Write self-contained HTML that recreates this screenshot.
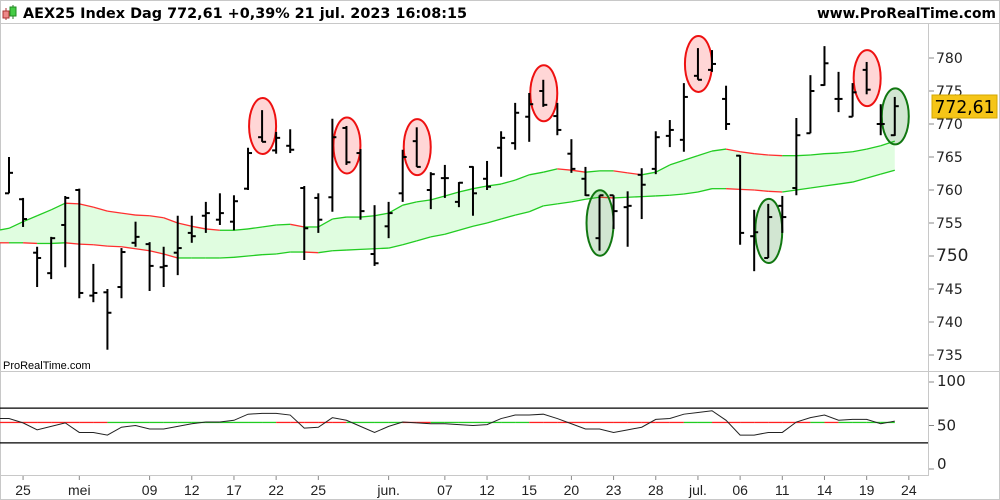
<!DOCTYPE html>
<html><head><meta charset="utf-8"><style>
html,body{margin:0;padding:0;background:#fff;}
#wrap{position:relative;width:1000px;height:500px;overflow:hidden;font-family:"DejaVu Sans","Liberation Sans",sans-serif;}
svg{position:absolute;left:0;top:0;}
</style></head><body>
<div id="wrap">
<svg id="chart" width="1000" height="500" viewBox="0 0 1000 500">
  <rect x="0.5" y="0.5" width="999" height="499" fill="#fff" stroke="#c8c8c8"/>
  <line x1="0" y1="23.5" x2="1000" y2="23.5" stroke="#c8c8c8"/>
  <g>
    <line x1="6" y1="8" x2="6" y2="20" stroke="#b03030"/><rect x="3" y="11" width="6" height="7" fill="#e88" stroke="#a33"/>
    <line x1="13" y1="5" x2="13" y2="19" stroke="#2a7a2a"/><rect x="10" y="7" width="6" height="9" fill="#4c4" stroke="#282"/>
  </g>
  <text x="23" y="18" font-size="14" font-weight="bold" fill="#000" textLength="444" lengthAdjust="spacingAndGlyphs">AEX25 Index Dag 772,61 +0,39% 21 jul. 2023 16:08:15</text>
  <text x="817" y="18" font-size="14" font-weight="bold" fill="#000" textLength="179" lengthAdjust="spacingAndGlyphs">www.ProRealTime.com</text>
  <line x1="928.5" y1="24" x2="928.5" y2="476" stroke="#c8c8c8"/>
  <line x1="0" y1="371.5" x2="1000" y2="371.5" stroke="#c8c8c8"/>
  <line x1="0" y1="475.5" x2="928" y2="475.5" stroke="#c8c8c8"/>
  <text x="3" y="369" font-size="11" fill="#000" font-family="Liberation Sans, sans-serif">ProRealTime.com</text>
  <g id="band"></g>
  <g id="marks"></g>
  <g id="bars"></g>
  <g id="yaxis"></g>
  <g id="osc"></g>
  <g id="xaxis"></g>
  <g>
    <rect x="932" y="95" width="65" height="23" fill="#f5c518" stroke="#d4a800"/>
    <text x="964.5" y="113" font-size="18" text-anchor="middle" fill="#000" textLength="60" lengthAdjust="spacingAndGlyphs">772,61</text>
  </g>
</svg>
</div>
<script>
const opens  =[759.5,758.6,750.5,747.4,754.7,760.0,744.0,744.5,745.3,752.0,751.8,748.3,750.5,753.5,756.1,755.5,755.2,760.2,768.0,766.0,766.7,760.3,758.8,758.9,769.4,765.6,750.3,754.5,759.5,767.4,760.0,761.8,758.2,763.5,761.7,766.4,767.1,771.1,775.0,771.2,765.5,761.7,752.7,759.2,757.4,762.3,763.2,768.2,767.6,777.3,778.2,773.8,765.2,753.0,749.7,757.6,760.3,768.6,775.9,773.8,771.1,778.2,770.0,768.3];
const highs  =[765.0,758.8,751.4,752.9,759.1,760.2,748.8,745.0,751.2,755.2,752.1,751.4,756.1,756.1,758.2,759.5,759.2,766.4,772.1,768.8,769.2,760.6,759.5,770.8,769.7,766.2,757.7,758.2,766.1,769.5,762.7,763.8,761.2,763.6,764.4,768.9,773.2,774.7,776.7,773.2,767.7,763.5,759.2,759.2,759.8,763.3,768.9,770.6,776.2,781.5,781.2,775.8,765.3,757.0,757.9,759.1,770.9,777.4,781.8,777.9,776.2,779.4,773.0,774.1];
const lows   =[759.5,754.4,745.3,746.5,748.3,743.6,743.0,735.8,743.6,751.4,744.7,745.3,747.1,752.0,753.5,754.7,753.9,760.0,767.3,765.5,765.6,749.4,753.5,756.7,763.8,755.5,748.5,752.7,758.2,763.5,757.1,758.8,757.4,756.1,760.0,762.0,766.1,767.3,772.6,768.3,762.6,759.1,750.8,754.1,751.4,755.6,762.4,766.5,765.8,776.7,777.9,769.1,751.7,747.7,749.7,753.5,759.2,768.6,775.8,771.8,771.1,774.5,768.3,768.2];
const closes =[762.6,755.6,749.7,752.7,758.8,744.4,744.4,741.4,750.6,752.9,748.5,748.5,751.2,753.0,756.5,756.5,758.3,765.6,767.3,767.9,766.1,754.2,755.5,768.0,764.2,756.8,748.9,756.5,765.0,763.5,762.4,761.8,761.1,759.5,760.5,767.9,771.7,773.0,772.9,769.1,763.2,759.2,759.2,756.8,757.6,760.8,768.0,769.1,774.1,776.7,779.1,770.0,753.5,753.6,755.9,755.9,768.3,775.0,779.2,773.8,774.8,775.2,770.0,772.7];
const bandUpper=[754.2,755.2,756.1,757.0,758.0,757.9,757.4,756.8,756.5,756.2,756.1,755.8,755.0,754.5,754.1,753.9,753.9,754.1,754.4,754.7,754.8,754.4,754.4,755.6,755.9,755.9,756.1,756.5,757.7,758.2,758.5,759.1,759.7,760.2,760.6,760.9,761.5,762.3,762.7,763.2,763.0,762.7,762.9,762.9,762.6,762.3,762.7,763.8,764.5,765.2,765.9,766.2,765.8,765.5,765.3,765.2,765.2,765.3,765.5,765.6,765.8,766.2,766.7,767.4];
const bandLower=[752.0,752.0,751.9,751.9,752.0,751.8,751.7,751.5,751.4,751.1,750.8,750.3,749.7,749.7,749.7,749.7,749.8,750.0,750.2,750.3,750.6,750.6,750.5,750.8,750.9,751.0,751.1,751.2,751.7,752.3,752.9,753.3,753.9,754.5,755.0,755.6,756.2,756.7,757.6,757.9,758.2,758.6,758.9,758.8,758.9,759.0,759.1,759.2,759.4,759.7,760.2,760.2,760.1,760.0,759.8,759.7,760.0,760.3,760.6,760.9,761.2,761.8,762.4,763.0];
const oscValues=[58,53,45,49,53,42,42,39,48,50,46,46,49,52,54,54,56,63,64,64,62,47,48,59,56,49,42,49,54,53,52,52,51,50,51,58,62,62,63,58,52,46,46,42,45,48,57,58,63,65,67,56,39,39,42,42,54,59,62,56,57,57,52,55];
const oscSignal=53.5;
const signalTrend=["r","r","r","r","r","r","r","r","g","g","g","g","g","g","g","g","g","g","g","g","r","r","r","r","r","g","g","g","g","r","r","g","g","g","g","g","g","g","r","r","r","r","r","r","r","r","r","r","r","g","g","r","r","r","r","r","r","r","g","r","g","g","g","g"];
const redMarks=[18,24,29,38,49,61];
const greenMarks=[42,54,63];
const priceTicks=[735,740,745,750,755,760,765,770,775,780];
const oscTicks=[0,50,100];
const oscLevels=[30,70];
const xTickIdx=[1,5,10,13,16,19,22,27,31,34,37,40,43,46,49,52,55,58,61,64];
const xTickLabels=["25","mei","09","12","17","22","25","jun.","07","12","15","20","23","28","jul.","06","11","14","19","24"];

const NS="http://www.w3.org/2000/svg";
const X=i=>9+i*14.06;
const Y=v=>58+(780-v)*6.6;
const OY=v=>469-0.87*v;
function mk(tag,attrs,parent){const e=document.createElementNS(NS,tag);for(const k in attrs)e.setAttribute(k,attrs[k]);parent.appendChild(e);return e;}

const band=document.getElementById('band');
let pts=bandUpper.map((v,i)=>X(i)+','+Y(v)).join(' ')+' '+bandLower.map((v,i)=>[X(i),Y(v)]).reverse().map(p=>p.join(',')).join(' ');
const poly=mk('polygon',{points:pts,fill:'#e0fde0',stroke:'none'},band);


const ext=mk('polygon',{points:`0,${Y(bandUpper[0]-0.25)} ${X(0)},${Y(bandUpper[0])} ${X(0)},${Y(bandLower[0])} 0,${Y(bandLower[0])}`,fill:'#e0fde0'},band);


[[bandUpper,'band-upper'],[bandLower,'band-lower']].forEach(([arr,nm])=>{
  for(let i=1;i<arr.length;i++){
    const col=arr[i]>=arr[i-1]?'#22cc22':'#ff3030';
    const l=mk('line',{x1:X(i-1),y1:Y(arr[i-1]),x2:X(i),y2:Y(arr[i]),stroke:col,'stroke-width':1.3},band);
    
    
  }
  const l0=mk('line',{x1:0,y1:Y(arr[0]-(nm==='band-upper'?0.25:0)),x2:X(0),y2:Y(arr[0]),stroke:nm==='band-upper'?'#22cc22':'#ff3030','stroke-width':1.3},band);
  
  
});

const marks=document.getElementById('marks');
function ell(i,fill,stroke,nm){
  const cy=(Y(highs[i])+Y(lows[i]))/2;
  const ry=Math.max(28,(Y(lows[i])-Y(highs[i]))/2+5);
  const e=mk('ellipse',{cx:X(i)+0.5,cy:cy,rx:13.5,ry:ry,fill:fill,stroke:stroke,'stroke-width':2},marks);
  
  
}
redMarks.forEach(i=>ell(i,'rgba(255,120,120,0.3)','#ee1111','red-signal-ellipse'));
greenMarks.forEach(i=>ell(i,'rgba(30,130,30,0.2)','#117711','green-signal-ellipse'));

const bars=document.getElementById('bars');
for(let i=0;i<opens.length;i++){
  const g=mk('g',{},bars);
  
  
  const x=X(i);
  mk('line',{x1:x,y1:Y(highs[i]),x2:x,y2:Y(lows[i]),stroke:'#000','stroke-width':2},g);
  mk('line',{x1:x-4,y1:Y(opens[i]),x2:x,y2:Y(opens[i]),stroke:'#000','stroke-width':2},g);
  mk('line',{x1:x,y1:Y(closes[i]),x2:x+4,y2:Y(closes[i]),stroke:'#000','stroke-width':2},g);
}

const ya=document.getElementById('yaxis');
priceTicks.forEach(v=>{
  const t=mk('line',{x1:929,y1:Y(v),x2:934,y2:Y(v),stroke:'#888'},ya);
  
  
  const tx=mk('text',{x:936,y:Y(v)+5,'font-size':v===750?17:14,fill:'#222'},ya);
  tx.textContent=v;
  
  
});

const osc=document.getElementById('osc');
oscLevels.forEach(v=>{
  const l=mk('line',{x1:0,y1:OY(v),x2:928,y2:OY(v),stroke:'#000','stroke-width':1.3},osc);
  
  
});
oscTicks.forEach(v=>{
  const t=mk('line',{x1:929,y1:OY(v),x2:934,y2:OY(v),stroke:'#888'},osc);
  
  
  const tx=mk('text',{x:937,y:OY(v)+(v===0?0:5)+(v===100?-1:0),'font-size':15,fill:'#222'},osc);
  tx.textContent=v;
  
  
});
for(let i=0;i<signalTrend.length;i++){
  const x0=i===0?0:X(i-1), x1=X(i);
  const l=mk('line',{x1:x0,y1:OY(oscSignal),x2:x1,y2:OY(oscSignal),stroke:signalTrend[i]==='r'?'#ff2020':'#22cc22','stroke-width':1.3},osc);
  
  
}
const op=mk('polyline',{points:'0,'+OY(oscValues[0])+' '+oscValues.map((v,i)=>X(i)+','+OY(v)).join(' '),fill:'none',stroke:'#222','stroke-width':1},osc);



const xa=document.getElementById('xaxis');
xTickIdx.forEach((idx,k)=>{
  const x=X(idx);
  const t=mk('line',{x1:x,y1:476,x2:x,y2:480,stroke:'#888'},xa);
  
  
  const tx=mk('text',{x:x,y:495,'font-size':14,'text-anchor':'middle',fill:'#222','font-family':'Liberation Sans, sans-serif'},xa);
  tx.textContent=xTickLabels[k];
  
  
});
</script>
</body></html>
